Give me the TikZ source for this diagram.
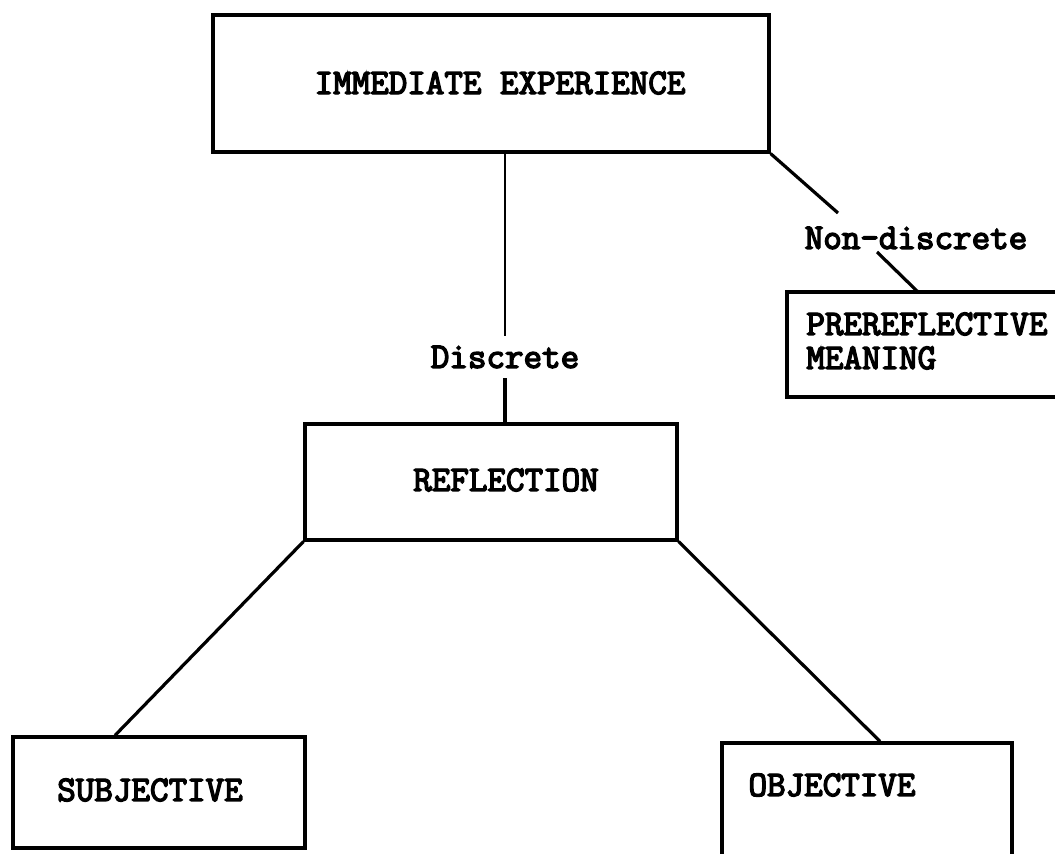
\documentclass[tikz,border=0pt]{standalone}
\usepackage{fontspec}
\newfontfamily\typewr{Latin Modern Mono}[FakeBold=4]
\begin{document}
\begin{tikzpicture}[x=0.5pt,y=-0.5pt,
  box/.style={draw, line width=1.6pt, inner sep=0pt},
  lbl/.style={inner sep=0pt, font=\typewr\fontsize{18pt}{17pt}\selectfont},
  conn/.style={line width=1.6pt}]
\clip (0,0) rectangle (1055,854);
\fill[white] (0,0) rectangle (1055,854);
% boxes
\node[box, minimum width=278pt, minimum height=68.5pt] (ie) at (491,83.5) {};
\node[box, minimum width=186pt, minimum height=58pt] (refl) at (491,482) {};
\node[box, minimum width=156.5pt, minimum height=52.5pt] (pre) at (943.5,344.5) {};
\node[box, minimum width=146pt, minimum height=55.5pt] (subj) at (159,792.5) {};
\node[box, minimum width=145pt, minimum height=78.5pt] (obj) at (867,821.5) {};
% texts
\node[lbl] (ietxt) at (500,83) {IMMEDIATE EXPERIENCE};
\node[lbl] (refltxt) at (506,480) {REFLECTION};
\node[lbl, anchor=west, align=left] (pretxt) at (806,341) {PREREFLECTIVE\\MEANING};
\node[lbl] (subjtxt) at (150,790) {SUBJECTIVE};
\node[lbl] (objtxt) at (832,785) {OBJECTIVE};
% connector labels
\node[lbl, minimum height=21pt] (disc) at (505,357) {Discrete};
\node[lbl] (nd) at (916,238) {Non-discrete};
\coordinate (nd1) at (838,213);
\coordinate (nd2) at (877,252);
\coordinate (preTop) at (918,292);
% connectors
\draw[conn, line width=1.4pt] (ie.south -| disc.center) -- (disc.north);
\draw[conn] (disc.south) -- (refl.north -| disc.center);
\draw[conn] (ie.south east) -- (nd1);
\draw[conn] (nd2) -- (preTop);
\draw[conn] (refl.south west) -- (subj.north -| 115,0);
\draw[conn] (refl.south east) -- (obj.north -| 880,0);
\end{tikzpicture}
\end{document}
